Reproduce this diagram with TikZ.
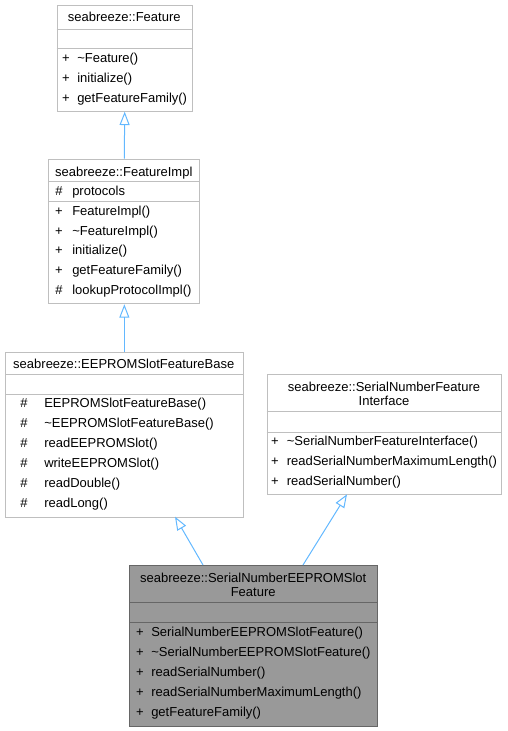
\documentclass[tikz,border=0pt]{standalone}
\usepackage{fontspec}
\setmainfont{Liberation Sans}
\usetikzlibrary{arrows.meta}

\definecolor{edgeblue}{HTML}{63B8FF}
\definecolor{boxline}{HTML}{BFBFBF}
\definecolor{focusline}{HTML}{666666}
\definecolor{focusfill}{HTML}{999999}

\tikzset{
	umlbox/.style={draw=boxline, fill=white, line width=0.75pt, anchor=north west, inner sep=0pt},
	focusbox/.style={umlbox, draw=focusline, fill=focusfill},
	sepline/.style={draw=boxline, line width=0.75pt},
	focussep/.style={draw=focusline, line width=0.75pt},
	classname/.style={anchor=base, inner sep=0pt, font=\fontsize{9.75}{10.6}\selectfont},
	classname2/.style={anchor=center, inner sep=0pt, align=center, font=\fontsize{9.75}{10.6}\selectfont},
	member/.style={anchor=base west, inner sep=0pt, font=\fontsize{9.75}{11}\selectfont},
	vis/.style={anchor=base, inner sep=0pt, font=\fontsize{9.75}{11}\selectfont},
	inherit/.style={draw=edgeblue, line width=0.75pt, -{Triangle[open, length=10pt, width=7.5pt]}}
}

\begin{document}
\begin{tikzpicture}[x=0.75pt, y=-0.75pt]
	\useasboundingbox (0,0) rectangle (507,731);
	% seabreeze::Feature
	\node[umlbox, minimum width=135*0.75pt, minimum height=105.7*0.75pt] (feature) at (56.7,5) {};
	\node[classname] (feature title) at (124.2,21.5) {seabreeze::Feature};
	\draw[sepline] (56.7,29.3) -- (191.7,29.3) (56.7,48.3) -- (191.7,48.3);
	\foreach \y/\s/\m in {58.3/+/\textasciitilde Feature(), 78.3/+/initialize(), 98.3/+/getFeatureFamily()}
	{
		\node[vis] at (66,\y+4.5) {\s};
		\node[member] at (77,\y+4.5) {\m};
	}
	% seabreeze::FeatureImpl
	\node[umlbox, minimum width=151*0.75pt, minimum height=144.6*0.75pt] (impl) at (48.3,158.7) {};
	\node[classname] (impl title) at (123.8,176.2) {seabreeze::FeatureImpl};
	\draw[sepline] (48.3,181.7) -- (199.3,181.7) (48.3,201.7) -- (199.3,201.7);
	\foreach \y/\s/\m in {191/\#/protocols, 211/+/FeatureImpl(), 230.5/+/\textasciitilde FeatureImpl(),
		250/+/initialize(), 270/+/getFeatureFamily(), 290/\#/lookupProtocolImpl()}
	{
		\node[vis] at (59,\y+4.5) {\s};
		\node[member] at (72,\y+4.5) {\m};
	}
	% seabreeze::EEPROMSlotFeatureBase
	\node[umlbox, minimum width=237.7*0.75pt, minimum height=165*0.75pt] (slotbase) at (5,351.7) {};
	\node[classname] (slotbase title) at (123.8,368.5) {seabreeze::EEPROMSlotFeatureBase};
	\draw[sepline] (5,374) -- (242.7,374) (5,394.3) -- (242.7,394.3);
	\foreach \y/\m in {403.3/EEPROMSlotFeatureBase(), 423.3/\textasciitilde EEPROMSlotFeatureBase(),
		443.3/readEEPROMSlot(), 463.3/writeEEPROMSlot(), 483.3/readDouble(), 503.3/readLong()}
	{
		\node[vis] at (24,\y+4.5) {\#};
		\node[member] at (44,\y+4.5) {\m};
	}
	% seabreeze::SerialNumberFeatureInterface
	\node[umlbox, minimum width=234.6*0.75pt, minimum height=120*0.75pt] (iface) at (266.7,374.3) {};
	\node[classname2] (iface title) at (384,393.6) {seabreeze::SerialNumberFeature\\Interface};
	\draw[sepline] (266.7,411.3) -- (501.3,411.3) (266.7,432.3) -- (501.3,432.3);
	\foreach \y/\m in {440.7/\textasciitilde SerialNumberFeatureInterface(),
		460.7/readSerialNumberMaximumLength(), 480.7/readSerialNumber()}
	{
		\node[vis] at (275,\y+4.5) {+};
		\node[member] at (286.5,\y+4.5) {\m};
	}
	% seabreeze::SerialNumberEEPROMSlotFeature
	\node[focusbox, minimum width=247.7*0.75pt, minimum height=160.7*0.75pt] (serial) at (129.3,565) {};
	\node[classname2] (serial title) at (253.2,584.6) {seabreeze::SerialNumberEEPROMSlot\\Feature};
	\draw[focussep] (129.3,602.3) -- (377,602.3) (129.3,622.3) -- (377,622.3);
	\foreach \y/\m in {631.7/SerialNumberEEPROMSlotFeature(), 651.7/\textasciitilde SerialNumberEEPROMSlotFeature(),
		671.7/readSerialNumber(), 691.7/readSerialNumberMaximumLength(), 711.7/getFeatureFamily()}
	{
		\node[vis] at (140,\y+4.5) {+};
		\node[member] at (151,\y+4.5) {\m};
	}
	% inheritance
	\coordinate (serial up1) at (203,565);
	\coordinate (serial up2) at (303,565);
	\coordinate (slotbase foot) at (175,516.7);
	\coordinate (iface foot) at (347,494.3);
	\draw[inherit] (impl.north) -- (feature.south);
	\draw[inherit] (slotbase.north) -- (slotbase.north |- impl.south);
	\draw[inherit] (serial up1) -- (slotbase foot);
	\draw[inherit] (serial up2) -- (iface foot);
\end{tikzpicture}
\end{document}
